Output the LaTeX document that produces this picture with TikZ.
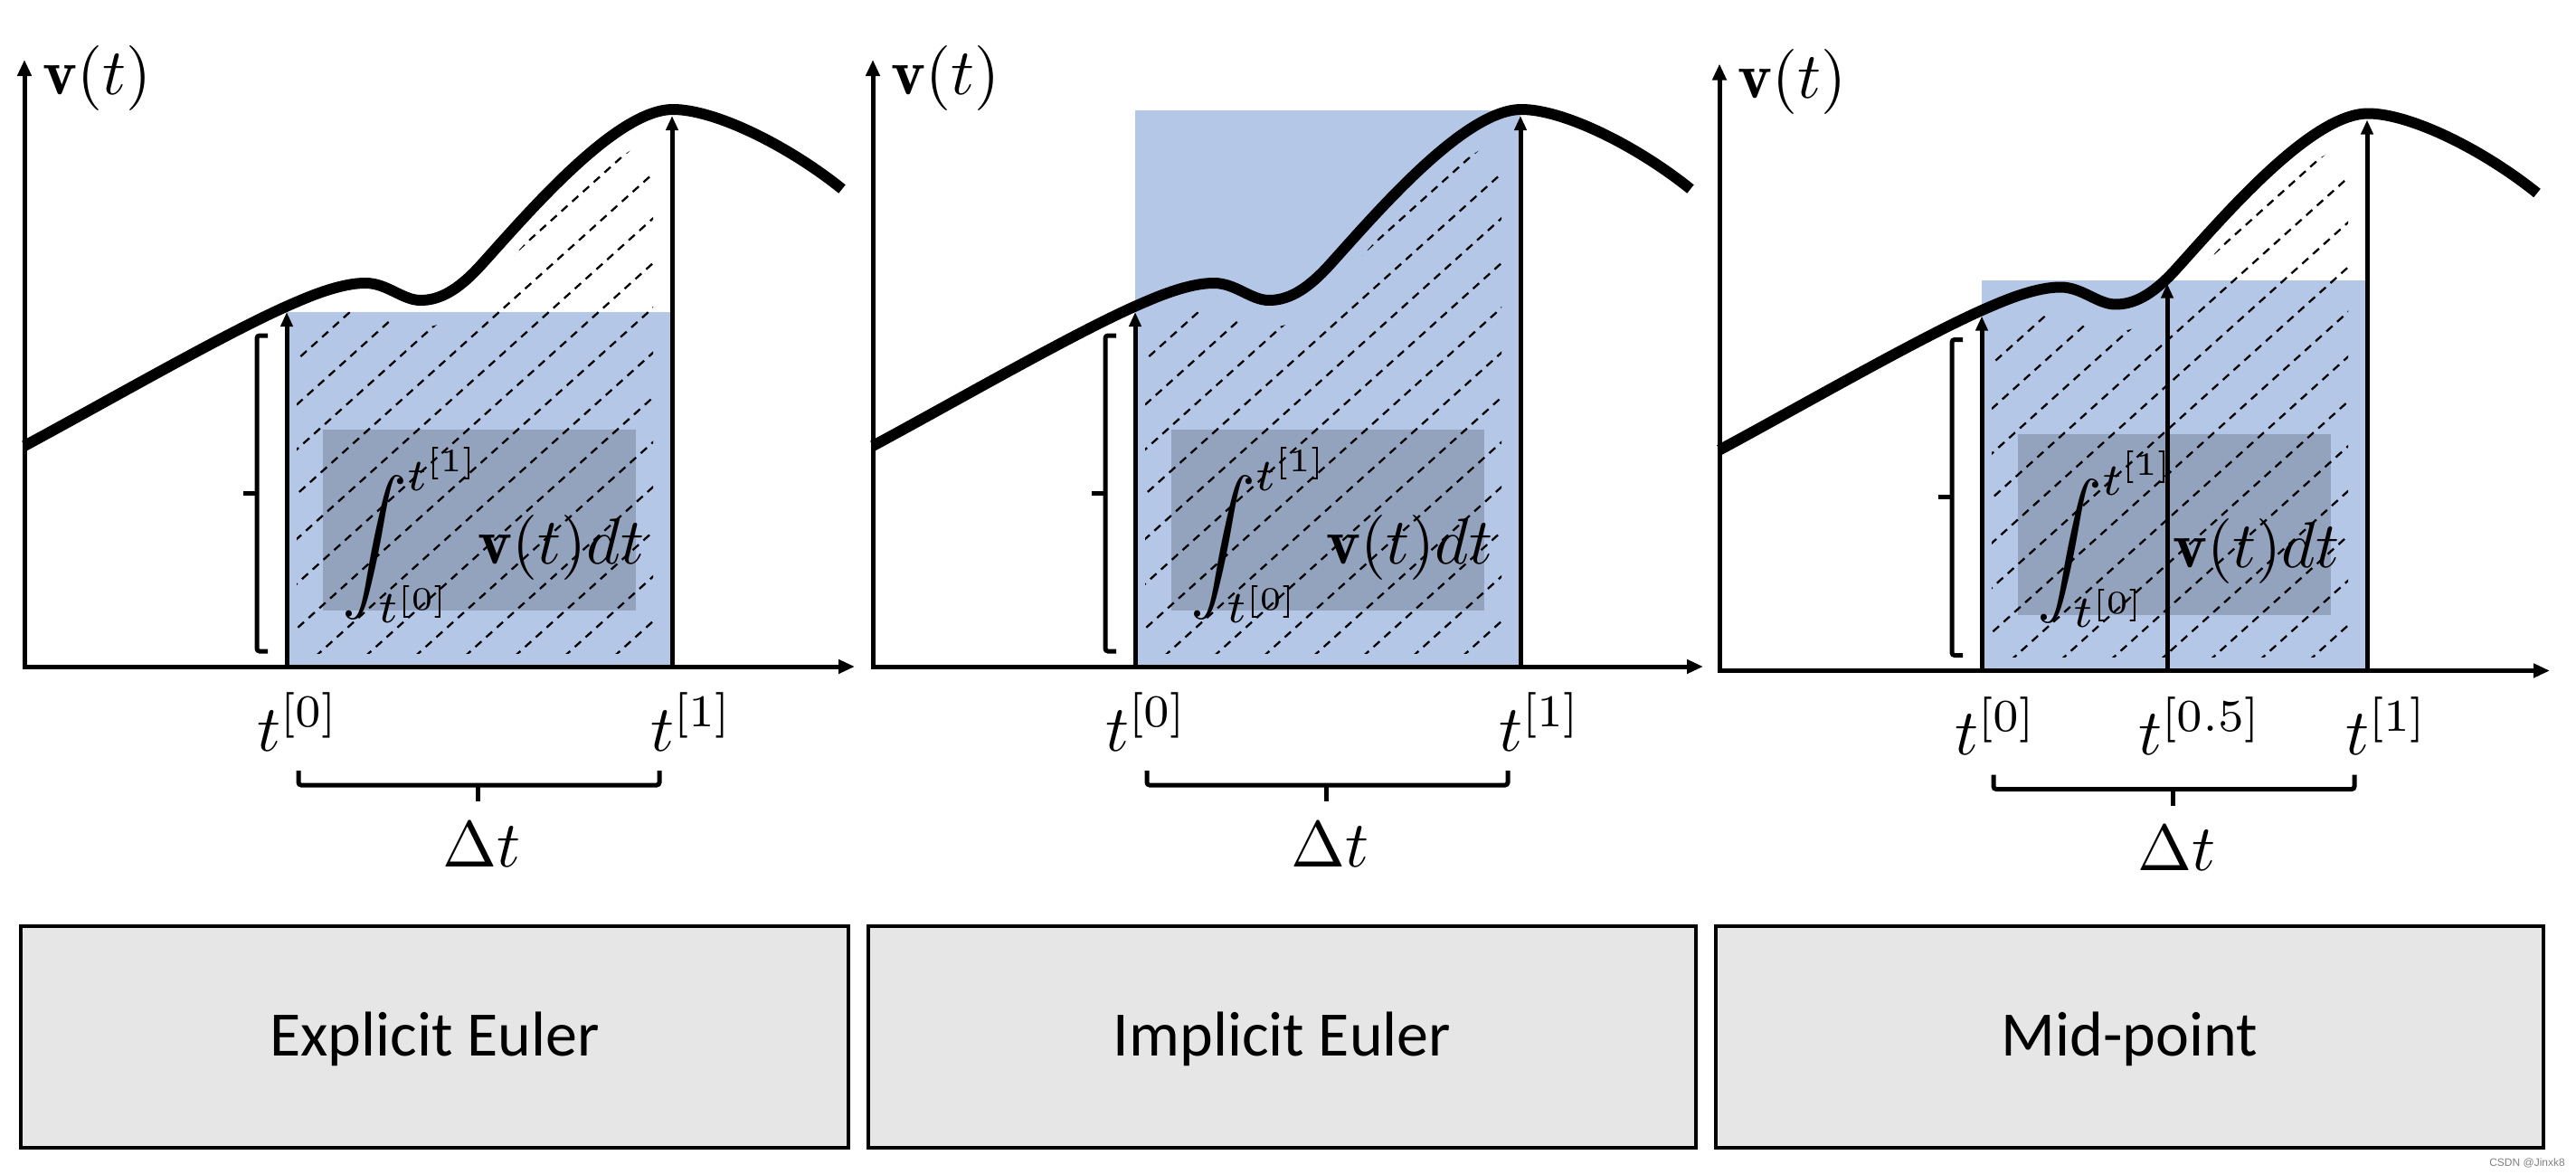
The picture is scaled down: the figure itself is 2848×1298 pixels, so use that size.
\documentclass[tikz,border=0pt]{standalone}
\usepackage{graphicx}
\usepackage{fontspec}
\newfontfamily\boxfont{Carlito}
\newfontfamily\wmfont{Liberation Sans}
\usetikzlibrary{arrows.meta}
\definecolor{bluefill}{HTML}{B4C7E7}
\definecolor{grayfill}{RGB}{148,163,189}
\definecolor{boxfill}{HTML}{E6E6E6}
\newcommand\bigmath[1]{\scalebox{7.2}{$#1$}}
\def\vcurve{(27,493) .. controls (120,443) and (260,362) .. (330,333) .. controls (360,320) and (385,313) .. (404,313) .. controls (428,313) and (445,332) .. (465,332) .. controls (485,332) and (505,322) .. (530,295) .. controls (580,240) and (680,121) .. (744,121) .. controls (790,121) and (870,160) .. (931,209)}
\tikzset{
 curveline/.style={line width=12pt, line cap=butt, line join=round},
 axisline/.style={line width=5pt, -{Triangle[length=18pt,width=15pt]}},
 arrowline/.style={line width=5pt, -{Triangle[length=16pt,width=13pt]}},
 hatchline/.style={line width=2.3pt, dash pattern=on 9pt off 7pt},
 brk/.style={line width=5pt, rounded corners=3pt},
 tick/.style={line width=5pt},
 mathlbl/.style={inner sep=0pt},
 boxst/.style={draw, line width=3.5pt, fill=boxfill, minimum width=915pt, minimum height=245pt, inner sep=0pt, font=\boxfont\fontsize{70}{84}\selectfont, text height=56pt, text depth=15pt},
}
\newcommand\drawpanel[3]{%
 \fill[bluefill] (317,#2) rectangle (743,737);
 \fill[grayfill] (357,475) rectangle (703,675);
 \node[mathlbl, anchor=base west] (#1int) at (378,623) {\bigmath{\displaystyle\int_{t^{[0]}}^{t^{[1]}}\mkern-4mu\mathbf{v}(t)dt}};
 \begin{scope}
  \clip (328,100) rectangle (722,722);
  \clip[yshift=-30pt] \vcurve -- (931,900) -- (27,900) -- cycle;
  \foreach \k in {-13,...,7} \draw[hatchline] ({313+55*\k},758) -- ++(900,-810);
 \end{scope}
 \coordinate (#1a0) at (317,737); \coordinate (#1b0) at (317,345);
 \coordinate (#1a1) at (743,737); \coordinate (#1b1) at (743,128);
 \draw[arrowline] (#1a0) -- (#1b0);
 \draw[arrowline] (#1a1) -- (#1b1);
 #3
 \draw[curveline] \vcurve;
 \coordinate (#1o) at (27,737); \coordinate (#1ytop) at (27,66);
 \coordinate (#1xo) at (24.5,737); \coordinate (#1xend) at (945,737);
 \draw[axisline] (#1o) -- (#1ytop);
 \draw[axisline] (#1xo) -- (#1xend);
 \node[mathlbl, anchor=base west] (#1v) at (47,104) {\bigmath{\mathbf{v}(t)}};
 \draw[brk] (296,371) -- (284,371) -- (284,720) -- (296,720);
 \draw[tick] (284,545) -- (269,545);
 \draw[brk] (330,852) -- (330,868) -- (729,868) -- (729,852);
 \draw[tick] (528,868) -- (528,886);
 \node[mathlbl, anchor=base] (#1dt) at (532,958) {\bigmath{\Delta t}};
}
\begin{document}
\begin{tikzpicture}[x=1pt,y=-1pt]
\useasboundingbox (0,0) rectangle (2848,1298);
\begin{scope}
 \drawpanel{pA}{345}{}
 \node[mathlbl,anchor=base] (pAt0) at (330,830) {\bigmath{t^{[0]}}};
 \node[mathlbl,anchor=base] (pAt1) at (765,830) {\bigmath{t^{[1]}}};
\end{scope}
\begin{scope}[xshift=938pt]
 \drawpanel{pB}{122}{}
 \node[mathlbl,anchor=base] (pBt0) at (330,830) {\bigmath{t^{[0]}}};
 \node[mathlbl,anchor=base] (pBt1) at (765,830) {\bigmath{t^{[1]}}};
\end{scope}
\begin{scope}[xshift=1874pt,yshift=-4.5pt]
 \drawpanel{pC}{305.5}{\coordinate (pCm0) at (522,737); \coordinate (pCm1) at (522,309); \draw[arrowline] (pCm0) -- (pCm1);}
 \node[mathlbl,anchor=base] (pCt0) at (333,830) {\bigmath{t^{[0]}}};
 \node[mathlbl,anchor=base] (pCtm) at (559,830) {\bigmath{t^{[0.5]}}};
 \node[mathlbl,anchor=base] (pCt1) at (765,830) {\bigmath{t^{[1]}}};
\end{scope}
\node[boxst] (boxA) at (480.5,1146.5) {Explicit Euler};
\node[boxst] (boxB) at (1417.5,1146.5) {Implicit Euler};
\node[boxst] (boxC) at (2354.5,1146.5) {Mid-point};
\node[font=\wmfont\fontsize{12}{14}\selectfont, text=gray, anchor=base east, inner sep=0pt] (wm) at (2836,1289) {CSDN @Jinxk8};
\end{tikzpicture}
\end{document}
